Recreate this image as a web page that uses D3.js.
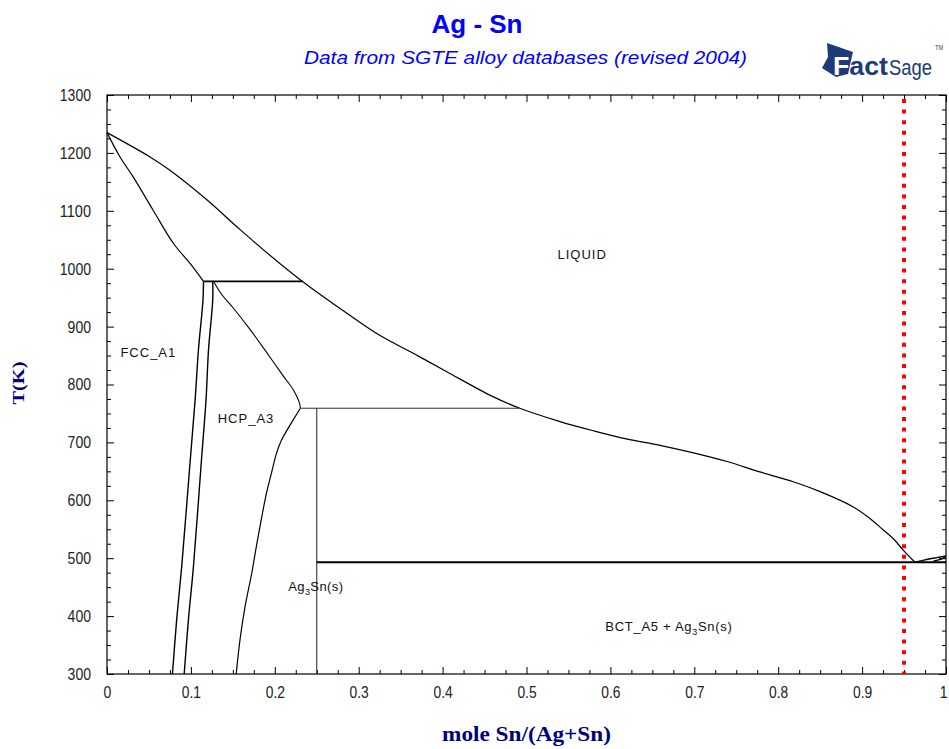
<!DOCTYPE html>
<html>
<head>
<meta charset="utf-8">
<script src="https://cdn.jsdelivr.net/npm/d3@7"></script>
<style>
  html, body { margin: 0; padding: 0; background: #ffffff; }
  svg { display: block; }
</style>
</head>
<body>
<div id="chart"></div>
<script>
// ---------- data (mole fraction Sn, temperature K) ----------
const xTicks = [0, 0.1, 0.2, 0.3, 0.4, 0.5, 0.6, 0.7, 0.8, 0.9, 1];
const yTicks = [300, 400, 500, 600, 700, 800, 900, 1000, 1100, 1200, 1300];

const liquidus = [
  [0, 1235], [0.0513, 1193], [0.075, 1170], [0.119, 1119], [0.159, 1067],
  [0.206, 1009], [0.233, 978], [0.286, 923], [0.325, 885], [0.365, 854],
  [0.405, 822], [0.460, 779], [0.492, 759], [0.540, 736], [0.580, 720],
  [0.619, 706], [0.659, 695], [0.699, 682], [0.739, 667], [0.778, 649],
  [0.818, 632], [0.850, 615], [0.889, 589], [0.909, 569], [0.925, 549],
  [0.937, 534], [0.949, 514], [0.963, 493]
];
const snLiquidus = [[0.963, 493], [0.975, 497], [0.989, 501], [1.0, 504]];
const bctSolidus = [[0.985, 495], [0.995, 499], [1.0, 503]];
const fccSolidus = [
  [0, 1235], [0.0155, 1193], [0.031, 1159], [0.055, 1101],
  [0.079, 1044], [0.099, 1009], [0.115, 978]
];
const fccSolvus = [
  [0.115, 978], [0.1144, 946], [0.109, 860], [0.105, 773], [0.0986, 658],
  [0.089, 485], [0.083, 393], [0.078, 300]
];
const hcpSolvusLeft = [
  [0.126, 978], [0.126, 946], [0.121, 860], [0.118, 773], [0.1126, 670],
  [0.103, 485], [0.097, 393], [0.092, 300]
];
const hcpSolidus = [
  [0.127, 978], [0.137, 955], [0.150, 933], [0.170, 896], [0.190, 856],
  [0.210, 815], [0.222, 791], [0.229, 770], [0.2305, 759]
];
const hcpSolvusRight = [
  [0.2305, 759], [0.222, 739], [0.208, 704], [0.202, 681], [0.196, 647],
  [0.190, 612], [0.178, 520], [0.1725, 474], [0.1645, 416], [0.1585, 359],
  [0.154, 300]
];
const peritecticHigh = [[0.115, 978], [0.233, 978]];
const peritecticLow = [[0.2305, 759], [0.492, 759]];
const ag3sn = [[0.25, 759], [0.25, 300]];
const eutectic = [[0.25, 493], [1.0, 493]];
const markerX = 0.95;

const phaseLabels = [
  { text: "LIQUID", x: 0.537, t: 1016 },
  { text: "FCC_A1", x: 0.016, t: 847 },
  { text: "HCP_A3", x: 0.132, t: 733 }
];

// ---------- layout ----------
const W = 949, H = 749;
const mLeft = 107, mRight = 946, mTop = 95, mBottom = 674;

const svg = d3.select("#chart").append("svg")
  .attr("width", W).attr("height", H)
  .style("font-family", "'Liberation Sans', Arial, sans-serif");

svg.append("rect").attr("width", W).attr("height", H).attr("fill", "#fff");

const x = d3.scaleLinear().domain([0, 1]).range([mLeft, mRight]);
const y = d3.scaleLinear().domain([300, 1300]).range([mBottom, mTop]);

// ---------- titles ----------
svg.append("text").attr("x", 477).attr("y", 33).attr("text-anchor", "middle")
  .attr("fill", "#0000ff").style("font-weight", "bold").style("font-size", "26px")
  .text("Ag - Sn");
svg.append("text").attr("x", 304).attr("y", 64)
  .attr("textLength", 443).attr("lengthAdjust", "spacingAndGlyphs")
  .attr("fill", "#0000ff").style("font-style", "italic").style("font-size", "18px")
  .text("Data from SGTE alloy databases (revised 2004)");

// ---------- FactSage logo ----------
const navy = "#1d3a7a";
const logo = svg.append("g");
logo.append("path")
  .attr("d", "M827,43 L853,52 L848,74 L836,77 L822,68 L828,57 Z")
  .attr("fill", navy);
const fact = logo.append("text").attr("x", 833).attr("y", 75)
  .attr("textLength", 55).attr("lengthAdjust", "spacingAndGlyphs")
  .style("font-weight", "bold").style("font-size", "26px")
  .style("font-family", "'Liberation Sans', Arial, sans-serif");
fact.append("tspan").attr("fill", "#fff").text("F");
fact.append("tspan").attr("fill", navy).attr("stroke", "#fff").attr("stroke-width", 1.2)
  .attr("paint-order", "stroke").text("act");
logo.append("text").attr("x", 889).attr("y", 75)
  .attr("textLength", 43).attr("lengthAdjust", "spacingAndGlyphs")
  .attr("fill", navy).style("font-size", "22px")
  .style("font-family", "'Liberation Sans', Arial, sans-serif")
  .text("Sage");
logo.append("text").attr("x", 935).attr("y", 50)
  .attr("textLength", 8).attr("lengthAdjust", "spacingAndGlyphs")
  .attr("fill", navy).style("font-size", "7px")
  .text("TM");

// ---------- axes ----------
const minorX = d3.range(0, 1.0001, 0.025).filter(v => Math.abs(v * 10 - Math.round(v * 10)) > 1e-6);
const minorY = d3.range(300, 1301, 25).filter(v => v % 100 !== 0);

function styleAxis(g) {
  g.select(".domain").remove();
  g.selectAll(".tick line").attr("stroke", "#000").attr("stroke-width", 1);
  g.selectAll(".tick text").attr("fill", "#222").style("font-size", "17px")
    .style("font-family", "'Liberation Sans', Arial, sans-serif")
    .attr("lengthAdjust", "spacingAndGlyphs")
    .attr("textLength", function () {
      const s = this.textContent;
      if (!s) return null;
      let w = 0;
      for (const ch of s) w += (ch === ".") ? 3.6 : 7.8;
      return w;
    });
}

const xAxisG = svg.append("g").attr("transform", `translate(0,${mBottom})`)
  .call(d3.axisBottom(x).tickValues(xTicks).tickSize(-7).tickPadding(12).tickFormat(d3.format("~g")))
  .call(styleAxis);
xAxisG.selectAll(".tick text").filter(d => d === 1).attr("text-anchor", "end").attr("dx", "1");
svg.append("g").attr("transform", `translate(0,${mBottom})`)
  .call(d3.axisBottom(x).tickValues(minorX).tickSize(-4).tickFormat(""))
  .call(styleAxis);
svg.append("g").attr("transform", `translate(0,${mTop})`)
  .call(d3.axisTop(x).tickValues(xTicks).tickSize(-7).tickFormat(""))
  .call(styleAxis);
svg.append("g").attr("transform", `translate(0,${mTop})`)
  .call(d3.axisTop(x).tickValues(minorX).tickSize(-4).tickFormat(""))
  .call(styleAxis);

svg.append("g").attr("transform", `translate(${mLeft},0)`)
  .call(d3.axisLeft(y).tickValues(yTicks).tickSize(-7).tickPadding(16).tickFormat(d3.format("d")))
  .call(styleAxis);
svg.append("g").attr("transform", `translate(${mLeft},0)`)
  .call(d3.axisLeft(y).tickValues(minorY).tickSize(-4).tickFormat(""))
  .call(styleAxis);
svg.append("g").attr("transform", `translate(${mRight},0)`)
  .call(d3.axisRight(y).tickValues(yTicks).tickSize(-7).tickFormat(""))
  .call(styleAxis);
svg.append("g").attr("transform", `translate(${mRight},0)`)
  .call(d3.axisRight(y).tickValues(minorY).tickSize(-4).tickFormat(""))
  .call(styleAxis);

svg.append("rect").attr("x", mLeft).attr("y", mTop)
  .attr("width", mRight - mLeft).attr("height", mBottom - mTop)
  .attr("fill", "none").attr("stroke", "#000").attr("stroke-width", 1.2);

// axis titles
svg.append("text")
  .attr("transform", `translate(24,383) rotate(-90)`)
  .attr("text-anchor", "middle").attr("fill", "#000080")
  .attr("textLength", 43).attr("lengthAdjust", "spacingAndGlyphs")
  .style("font-family", "'Liberation Serif', 'Times New Roman', serif")
  .style("font-weight", "bold").style("font-size", "17px")
  .text("T(K)");
svg.append("text").attr("x", 442).attr("y", 741)
  .attr("textLength", 169).attr("lengthAdjust", "spacingAndGlyphs")
  .attr("fill", "#000080")
  .style("font-family", "'Liberation Serif', 'Times New Roman', serif")
  .style("font-weight", "bold").style("font-size", "21px")
  .text("mole Sn/(Ag+Sn)");

// ---------- phase boundaries ----------
const curve = d3.line().x(d => x(d[0])).y(d => y(d[1])).curve(d3.curveCatmullRom.alpha(0.5));
const straight = d3.line().x(d => x(d[0])).y(d => y(d[1]));
const plot = svg.append("g");

function draw(data, w, gen, color) {
  plot.append("path").datum(data).attr("d", gen)
    .attr("fill", "none").attr("stroke", color || "#000").attr("stroke-width", w)
    .attr("stroke-linejoin", "round");
}
draw(liquidus, 1.2, curve);
draw(snLiquidus, 1.4, curve);
draw(bctSolidus, 1.4, curve);
draw(fccSolidus, 1.2, curve);
draw(fccSolvus, 1.4, curve);
draw(hcpSolvusLeft, 1.4, curve);
draw(hcpSolidus, 1.1, curve);
draw(hcpSolvusRight, 1.2, curve);
draw(peritecticHigh, 1.8, straight);
draw(peritecticLow, 1, straight, "#333");
draw(ag3sn, 1, straight, "#222");
draw(eutectic, 1.8, straight);

// red marker line
plot.append("line")
  .attr("x1", x(markerX)).attr("x2", x(markerX))
  .attr("y1", y(1300) + 4).attr("y2", y(300))
  .attr("stroke", "#ff0000").attr("stroke-width", 4)
  .attr("stroke-dasharray", "4,6.6");

// ---------- phase labels ----------
const lblFont = "'Liberation Sans', Arial, sans-serif";
phaseLabels.forEach(p => {
  svg.append("text").attr("x", x(p.x)).attr("y", y(p.t))
    .attr("fill", "#111").style("font-size", "13px").style("font-family", lblFont)
    .style("letter-spacing", "1px")
    .text(p.text);
});

// Ag3Sn(s) label with subscript
const ag = svg.append("text").attr("x", x(0.216)).attr("y", y(443))
  .attr("fill", "#111").style("font-size", "13px").style("font-family", lblFont)
  .style("letter-spacing", "0.4px");
ag.append("tspan").text("Ag");
ag.append("tspan").attr("dy", 4).style("font-size", "9px").text("3");
ag.append("tspan").attr("dy", -4).text("Sn(s)");

const bct = svg.append("text").attr("x", x(0.594)).attr("y", y(374))
  .attr("fill", "#111").style("font-size", "13px").style("font-family", lblFont)
  .style("letter-spacing", "0.7px");
bct.append("tspan").text("BCT_A5 + Ag");
bct.append("tspan").attr("dy", 4).style("font-size", "9px").text("3");
bct.append("tspan").attr("dy", -4).text("Sn(s)");
</script>
</body>
</html>
